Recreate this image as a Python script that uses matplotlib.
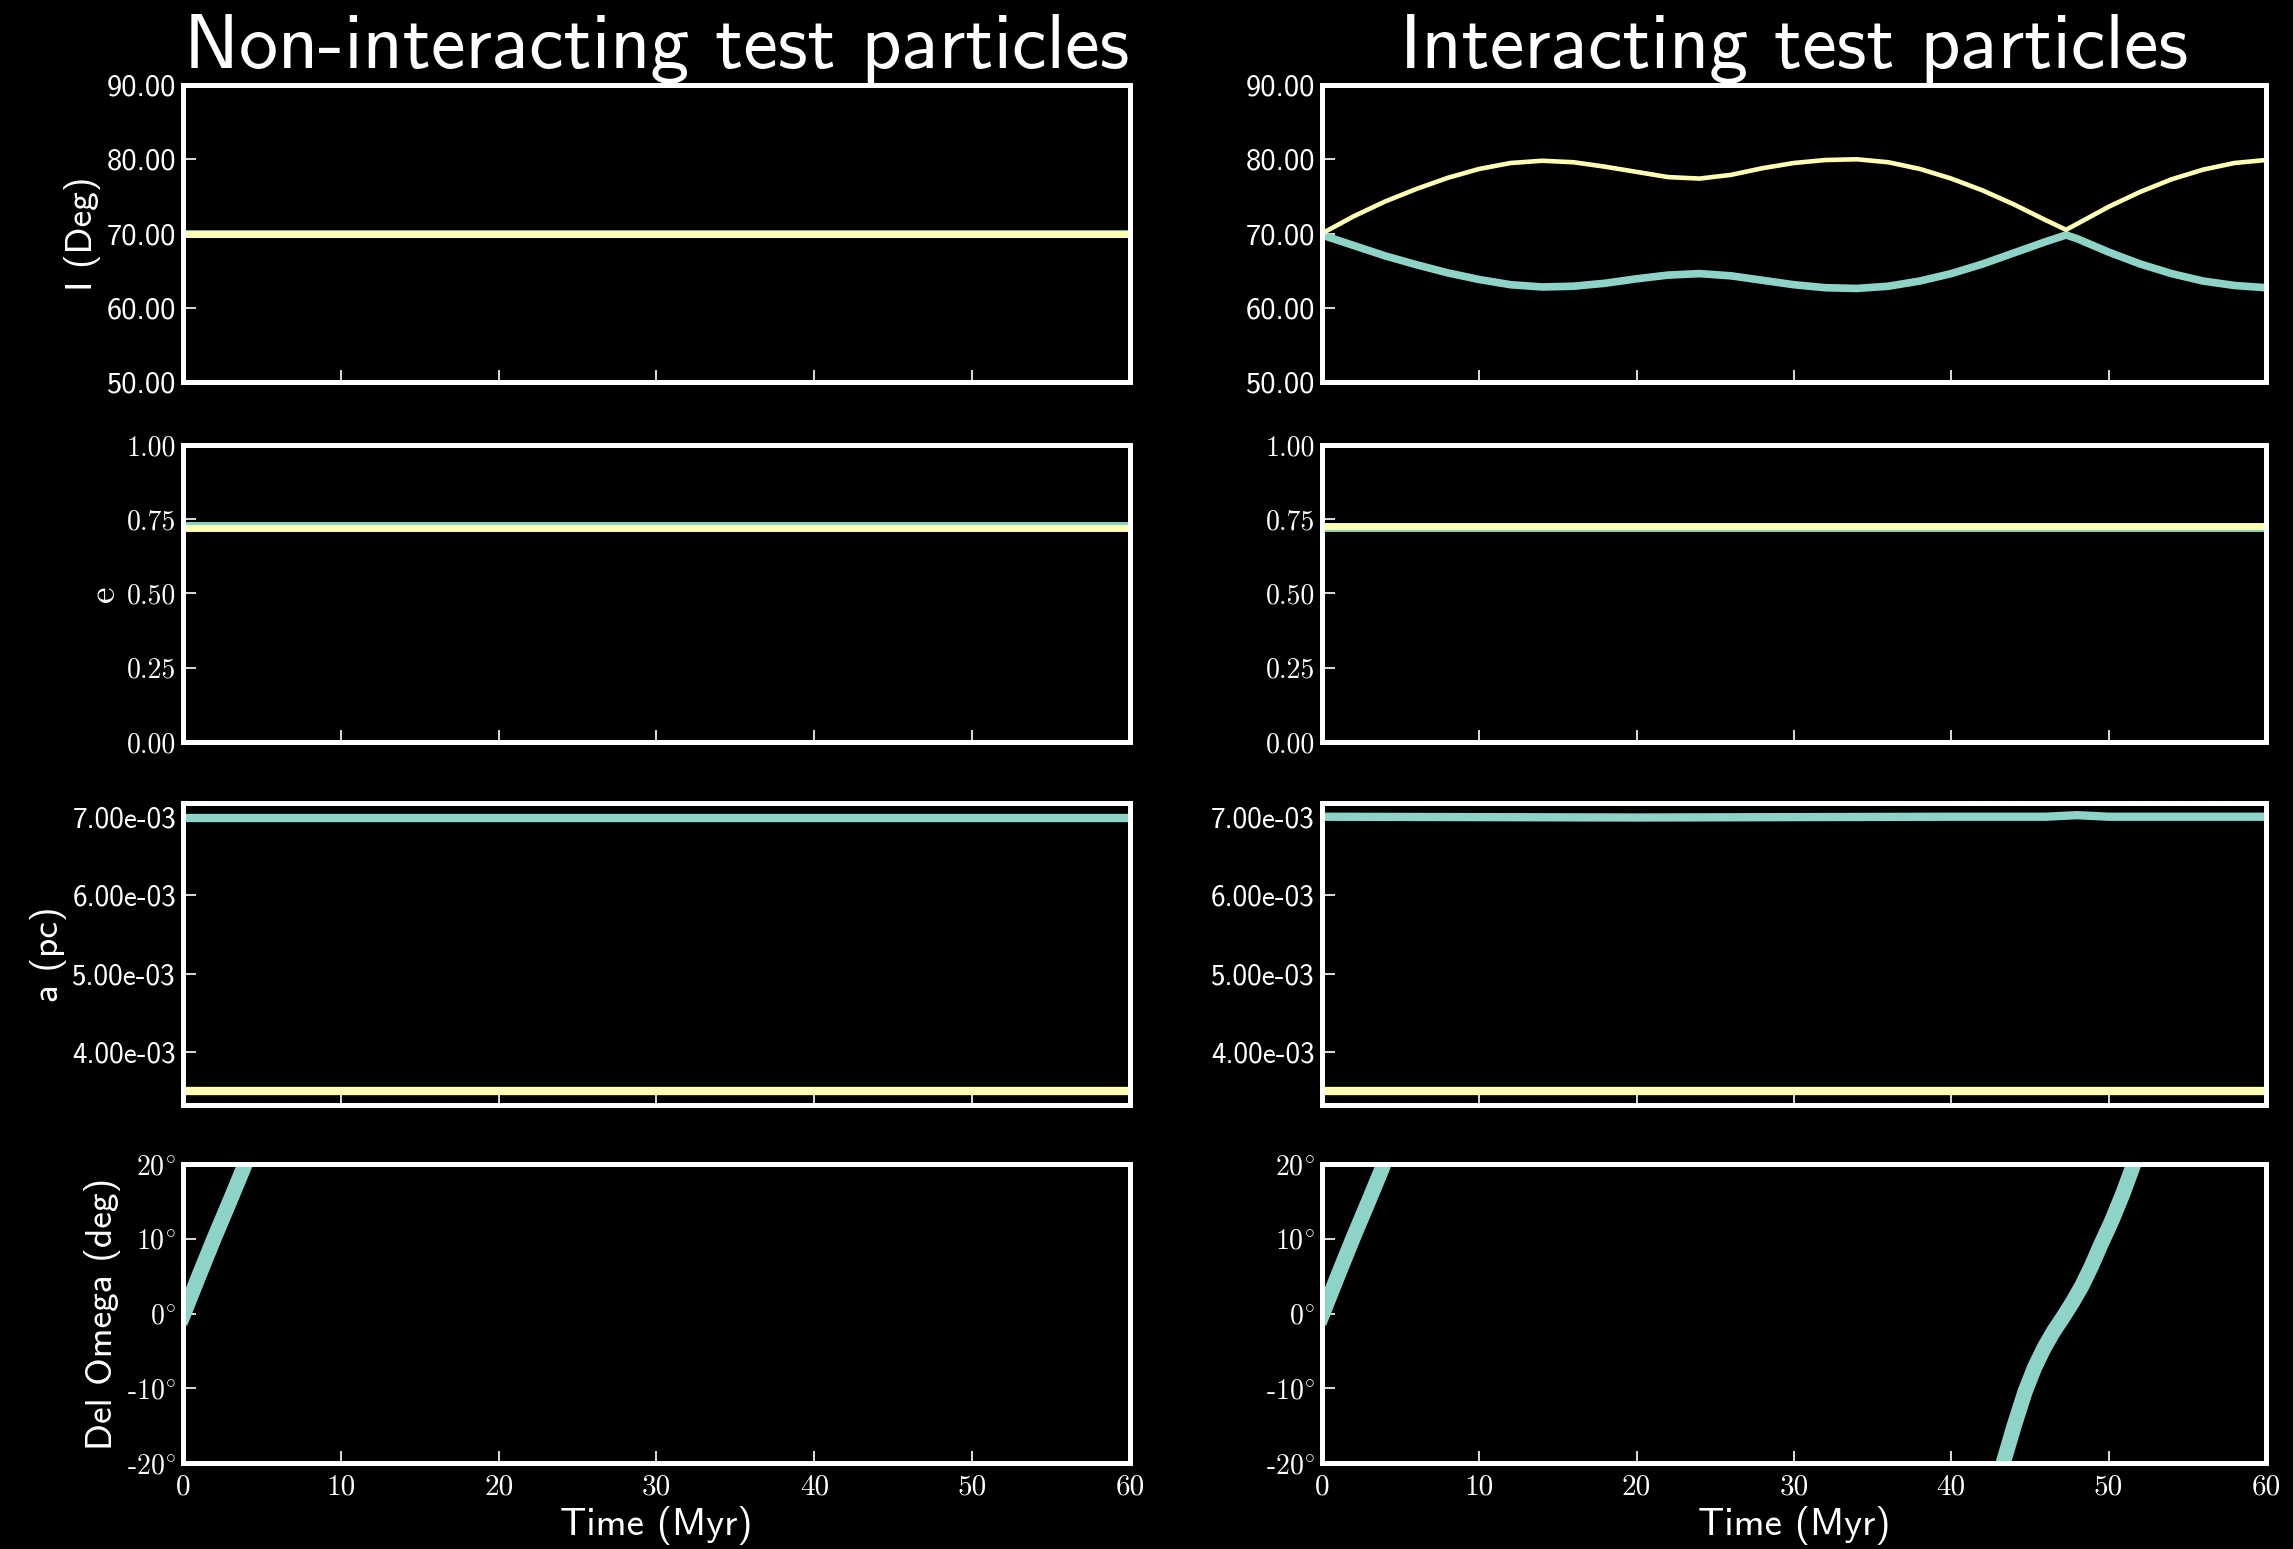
import matplotlib
matplotlib.use("Agg")
import matplotlib.pyplot as plt
from matplotlib.ticker import FixedLocator, FormatStrFormatter, FuncFormatter

plt.rcParams["mathtext.fontset"] = "cm"
plt.rcParams["axes.unicode_minus"] = False

TEAL = "#8dd3c7"
YELLOW = "#feffb3"
SANS = "cmss10"
SERIF = "cmr10"

# time grid for the non-interacting runs (flat tracks)
t_flat = [0, 60]

# inclination (deg) for the interacting pair
t_inc = [0, 2, 4, 6, 8, 10, 12, 14, 16, 18, 20, 22, 24, 26, 28, 30, 32,
         34, 36, 38, 40, 42, 44, 46, 47.3, 48, 50, 52, 54, 56, 58, 60]
inc_teal = [69.8, 68.4, 67.0, 65.8, 64.7, 63.8, 63.1, 62.8, 62.9, 63.3, 63.9,
            64.4, 64.6, 64.3, 63.7, 63.1, 62.7, 62.6, 62.9, 63.6, 64.6, 65.9,
            67.4, 68.9, 69.8, 69.3, 67.5, 65.9, 64.6, 63.6, 63.0, 62.7]
inc_yellow = [70.0, 72.3, 74.3, 76.0, 77.5, 78.7, 79.5, 79.8, 79.6, 79.0, 78.3,
              77.6, 77.4, 77.9, 78.8, 79.5, 79.9, 80.0, 79.6, 78.7, 77.4, 75.8,
              73.9, 71.8, 70.5, 71.3, 73.6, 75.6, 77.3, 78.6, 79.5, 79.9]
inc_flat = [70.0, 70.0]

# eccentricity
ecc_teal_free = [0.730, 0.730]
ecc_yellow_free = [0.722, 0.722]
ecc_teal_int = [0.720, 0.720]
ecc_yellow_int = [0.726, 0.726]

# semi-major axis (pc)
sma_teal_free = [6.99e-3, 6.99e-3]
sma_yellow_free = [3.50e-3, 3.50e-3]
t_sma = [0, 20, 40, 46, 48, 50, 60]
sma_teal_int = [7.00e-3, 6.99e-3, 7.00e-3, 7.00e-3, 7.02e-3, 7.00e-3, 7.00e-3]
sma_yellow_int = [3.50e-3, 3.50e-3, 3.50e-3, 3.50e-3, 3.50e-3, 3.50e-3, 3.50e-3]

# Delta Omega (deg), two visible branches
t_dom_a = [0, 1, 2, 3, 4, 4.6]
dom_a = [-0.3, 5.0, 10.2, 15.2, 20.3, 23.4]
t_dom_b = [42.9, 43.3, 44.0, 44.7, 45.3, 45.9, 46.5, 47.1, 47.7, 48.3, 48.9,
           49.5, 50.2, 50.9, 51.6, 52.0]
dom_b = [-22.0, -20.0, -15.0, -10.4, -7.2, -4.6, -2.4, -0.5, 1.5, 3.7, 6.3,
         9.2, 12.4, 16.0, 20.0, 22.0]

inc_ticks = [50, 60, 70, 80, 90]
ecc_ticks = [0.0, 0.25, 0.5, 0.75, 1.0]
sma_ticks = [4e-3, 5e-3, 6e-3, 7e-3]
dom_ticks = [-20, -10, 0, 10, 20]
time_ticks = [0, 10, 20, 30, 40, 50, 60]

fig = plt.figure(figsize=(22.93, 15.49), dpi=100, facecolor="black")

col_x = [0.0798, 0.5765]
col_w = [0.4130, 0.4117]
row_y = [0.7534, 0.5210, 0.2866, 0.0555]
row_h = [0.1917, 0.1917, 0.1950, 0.1930]

axes = [[fig.add_axes([col_x[c], row_y[r], col_w[c], row_h[r]]) for c in range(2)]
        for r in range(4)]


def style(ax, yticks, fmt, yfont, ysize, bottom_row):
    ax.set_facecolor("black")
    for s in ax.spines.values():
        s.set_color("white")
        s.set_linewidth(3.6)
    ax.set_xlim(0, 60)
    ax.xaxis.set_major_locator(FixedLocator(time_ticks))
    ax.yaxis.set_major_locator(FixedLocator(yticks))
    ax.yaxis.set_major_formatter(fmt)
    ax.tick_params(direction="in", length=9, width=1.2, colors="white",
                   labelsize=20, top=False, right=False, pad=5)
    ax.tick_params(axis="y", labelsize=ysize)
    for lab in ax.get_yticklabels():
        lab.set_family(yfont)
    if bottom_row:
        ax.xaxis.set_major_formatter(FormatStrFormatter("%d"))
        for lab in ax.get_xticklabels():
            lab.set_family(SERIF)
        ax.tick_params(axis="x", labelsize=21, pad=8)
        ax.set_xlabel("Time (Myr)", family=SANS, fontsize=28, color="white",
                      labelpad=4)
    else:
        ax.set_xticklabels([])


def deg_label(v, pos):
    sign = "-" if v < 0 else ""
    return sign + "$%d^{\\!\\circ}$" % abs(v)


for c in range(2):
    style(axes[0][c], inc_ticks, FormatStrFormatter("%.2f"), SANS, 22, False)
    axes[0][c].set_ylim(50, 90)
    style(axes[1][c], ecc_ticks, FormatStrFormatter("%.2f"), SERIF, 20, False)
    axes[1][c].set_ylim(0, 1)
    style(axes[2][c], sma_ticks, FormatStrFormatter("%.2e"), SANS, 21, False)
    axes[2][c].set_ylim(3.325e-3, 7.175e-3)
    style(axes[3][c], dom_ticks, FuncFormatter(deg_label), SERIF, 20, True)
    axes[3][c].set_ylim(-20, 20)

# non-interacting column
ax = axes[0][0]
ax.plot(t_flat, inc_flat, color=TEAL, lw=5.5)
ax.plot(t_flat, inc_flat, color=YELLOW, lw=5)
ax = axes[1][0]
ax.plot(t_flat, ecc_teal_free, color=TEAL, lw=5)
ax.plot(t_flat, ecc_yellow_free, color=YELLOW, lw=5)
ax = axes[2][0]
ax.plot(t_flat, sma_teal_free, color=TEAL, lw=6)
ax.plot(t_flat, sma_yellow_free, color=YELLOW, lw=6)
ax = axes[3][0]
ax.plot(t_dom_a, dom_a, color=TEAL, lw=11)

# interacting column
ax = axes[0][1]
ax.plot(t_inc, inc_teal, color=TEAL, lw=5.5)
ax.plot(t_inc, inc_yellow, color=YELLOW, lw=3.3)
ax = axes[1][1]
ax.plot(t_flat, ecc_teal_int, color=TEAL, lw=5)
ax.plot(t_flat, ecc_yellow_int, color=YELLOW, lw=5)
ax = axes[2][1]
ax.plot(t_sma, sma_teal_int, color=TEAL, lw=6)
ax.plot(t_sma, sma_yellow_int, color=YELLOW, lw=6)
ax = axes[3][1]
ax.plot(t_dom_a, dom_a, color=TEAL, lw=11)
ax.plot(t_dom_b, dom_b, color=TEAL, lw=11)

axes[0][0].set_ylabel("I (Deg)", family=SANS, fontsize=27, color="white")
axes[1][0].set_ylabel("e", family=SERIF, fontsize=27, color="white")
axes[2][0].set_ylabel("a (pc)", family=SANS, fontsize=27, color="white")
axes[3][0].set_ylabel("Del Omega (deg)", family=SANS, fontsize=27, color="white")

axes[0][0].set_title("Non-interacting test particles", family=SANS,
                     fontsize=56, color="white", pad=12)
axes[0][1].set_title("Interacting test particles", family=SANS,
                     fontsize=56, color="white", pad=12)

fig.savefig("out.png", dpi=100, facecolor="black")
